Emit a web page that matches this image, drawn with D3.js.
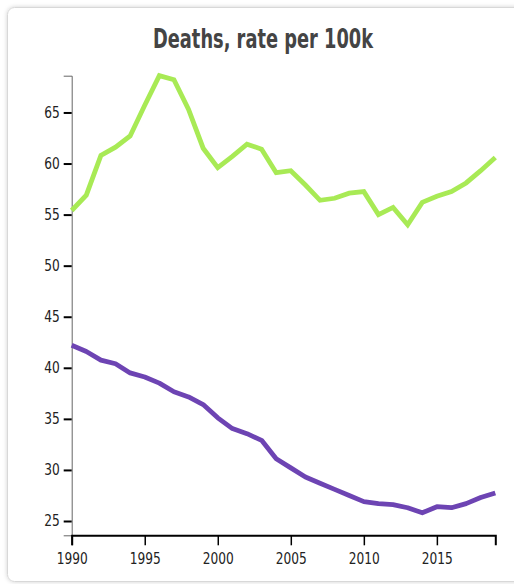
<!DOCTYPE html>
<html>
<head>
<meta charset="utf-8">
<script src="https://cdn.jsdelivr.net/npm/d3@7"></script>
<style>
  html, body { margin: 0; padding: 0; background: #fff; }
  svg { display: block; }
</style>
</head>
<body>
<svg id="chart" width="514" height="584"></svg>
<script>
const title = "Deaths, rate per 100k";
const years = [1990,1991,1992,1993,1994,1995,1996,1997,1998,1999,2000,2001,2002,2003,2004,2005,2006,2007,2008,2009,2010,2011,2012,2013,2014,2015,2016,2017,2018,2019];
const greenSeries = [55.4,56.9,60.8,61.6,62.7,65.7,68.6,68.2,65.3,61.5,59.6,60.7,61.9,61.4,59.1,59.3,57.9,56.4,56.6,57.1,57.25,55.0,55.7,54.0,56.2,56.8,57.25,58.1,59.3,60.6];
const purpleSeries = [42.2,41.6,40.75,40.4,39.5,39.1,38.5,37.65,37.15,36.4,35.1,34.05,33.55,32.9,31.1,30.2,29.3,28.7,28.1,27.5,26.9,26.7,26.6,26.3,25.8,26.4,26.3,26.7,27.3,27.75];
const yDomain = [23.6, 68.6];
const yTicks = [25,30,35,40,45,50,55,60,65];
const xTicks = [1990,1995,2000,2005,2010,2015];
const colors = {green: "#a8ea55", purple: "#6d44b3"};

const FONT = "'DejaVu Sans Condensed','DejaVu Sans',sans-serif";
const svg = d3.select("#chart");
const defs = svg.append("defs");
const f = defs.append("filter").attr("id","shadow").attr("x","-5%").attr("y","-5%").attr("width","110%").attr("height","110%");
f.append("feDropShadow").attr("dx",0).attr("dy",0).attr("stdDeviation",2).attr("flood-color","#000").attr("flood-opacity",0.18);

svg.append("rect").attr("x",7.5).attr("y",7.5).attr("width",540).attr("height",574)
  .attr("rx",7).attr("fill","#fff").attr("stroke","#d8d8d8").attr("filter","url(#shadow)");

svg.append("text").attr("x",263).attr("y",48).attr("text-anchor","middle")
  .attr("font-family",FONT).attr("font-weight","bold").attr("font-size",26)
  .attr("textLength",220).attr("lengthAdjust","spacingAndGlyphs")
  .attr("fill","#444").text(title);

const x = d3.scaleLinear().domain([years[0], years[years.length-1]]).range([71.7, 495.3]);
const y = d3.scaleLinear().domain(yDomain).range([535.3, 75.7]);

const yAxis = svg.append("g").attr("transform","translate(71.7,0)")
  .call(d3.axisLeft(y).tickValues(yTicks).tickSize(8).tickPadding(4).tickFormat(d3.format("d")));
yAxis.select(".domain").attr("stroke","#666").attr("stroke-width",1);
yAxis.selectAll(".tick line").attr("stroke","#000").attr("stroke-width",2);
yAxis.selectAll(".tick text").attr("font-family",FONT).attr("font-size",15)
  .attr("textLength",15.5).attr("lengthAdjust","spacingAndGlyphs").attr("fill","#222");

const xAxis = svg.append("g").attr("transform","translate(0,535.3)")
  .call(d3.axisBottom(x).tickValues(xTicks).tickSize(10).tickSizeOuter(10).tickPadding(7).tickFormat(d3.format("d")));
xAxis.select(".domain").attr("stroke","#000").attr("stroke-width",2);
xAxis.selectAll(".tick line").attr("stroke","#000").attr("stroke-width",1.5);
xAxis.selectAll(".tick text").attr("font-family",FONT).attr("font-size",16.5)
  .attr("textLength",31).attr("lengthAdjust","spacingAndGlyphs").attr("fill","#222");

const line = d3.line().x((d,i)=>x(years[i])).y(d=>y(d));
svg.append("path").datum(greenSeries).attr("d",line).attr("fill","none")
  .attr("stroke",colors.green).attr("stroke-width",4.8).attr("stroke-linejoin","miter");
svg.append("path").datum(purpleSeries).attr("d",line).attr("fill","none")
  .attr("stroke",colors.purple).attr("stroke-width",4.8).attr("stroke-linejoin","round");
</script>
</body>
</html>
